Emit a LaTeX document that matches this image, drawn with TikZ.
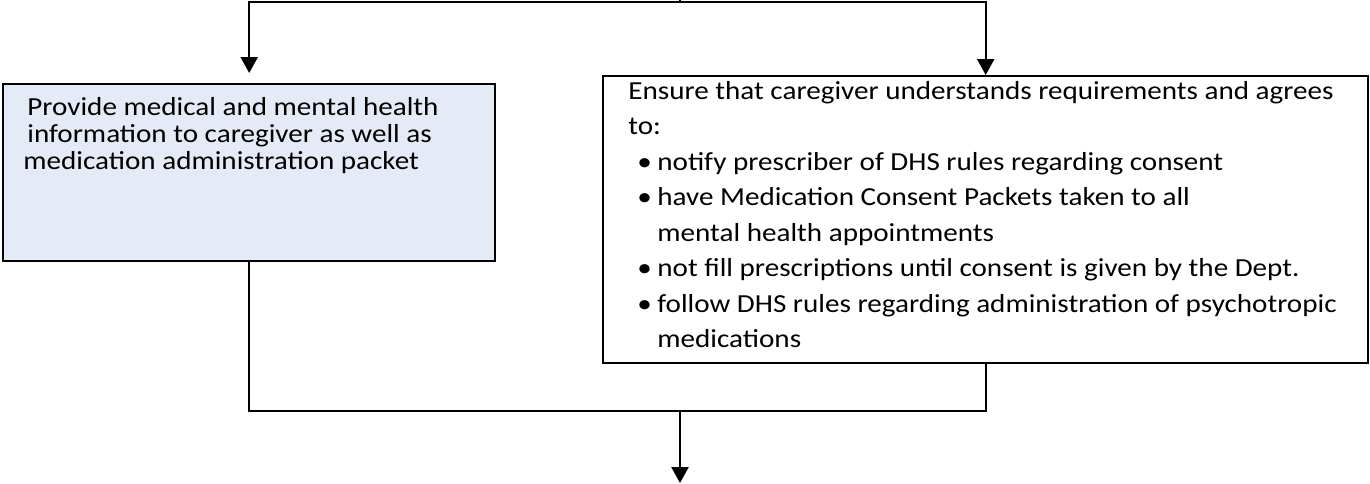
\documentclass[tikz,border=0pt]{standalone}
\usepackage{fontspec}
\setmainfont{Carlito}[FakeStretch=1.12]
\usetikzlibrary{arrows.meta}
\definecolor{boxblue}{RGB}{229,235,246}

\begin{document}
\begin{tikzpicture}[x=0.5pt,y=-0.5pt]
		\tikzstyle {box} = [draw, line width=1.2pt, inner sep=0pt, anchor=north west]
		\tikzstyle {box text} = [inner sep=0pt, anchor=north west, align=left]
		\tikzstyle {link} = [line width=1.2pt]
		\tikzstyle {flow} = [link, -{Triangle[length=8pt,width=8.5pt]}]

		\useasboundingbox (0,0) rectangle (1370,483);

		\node[box, fill=boxblue, minimum width=246pt, minimum height=88.5pt] (care) at (2,83) {};
		\node[box, minimum width=382.5pt, minimum height=143.5pt] (agree) at (602,75) {};

		\node[box text, font=\fontsize{13}{13.5}\selectfont] (care text) at (23,97)
			{\hspace*{2pt}Provide medical and mental health\\
			 \hspace*{2pt}information to caregiver as well as\\
			 medication administration packet};

		\node[box text, font=\fontsize{13}{17.75}\selectfont] (agree text) at (628,81)
			{Ensure that caregiver understands requirements and agrees\\
			 to:\\
			 \hspace*{4.5pt}\makebox[10pt][l]{•}notify prescriber of DHS rules regarding consent\\
			 \hspace*{4.5pt}\makebox[10pt][l]{•}have Medication Consent Packets taken to all\\
			 \hspace*{14.5pt}mental health appointments\\
			 \hspace*{4.5pt}\makebox[10pt][l]{•}not fill prescriptions until consent is given by the Dept.\\
			 \hspace*{4.5pt}\makebox[10pt][l]{•}follow DHS rules regarding administration of psychotropic\\
			 \hspace*{14.5pt}medications};

		\coordinate (in) at (680,0);
		\coordinate (split) at (680,2);
		\coordinate (join) at (680,411);
		\coordinate (out) at (680,483);

		\draw[link] (in) -- (split);
		\draw[flow, shorten >=5pt] (split) -| (care.north);
		\draw[flow] (split) -| (agree.north);
		\draw[link] (care.south) |- (join) -| (agree.south);
		\draw[flow] (join) -- (out);
\end{tikzpicture}
\end{document}
